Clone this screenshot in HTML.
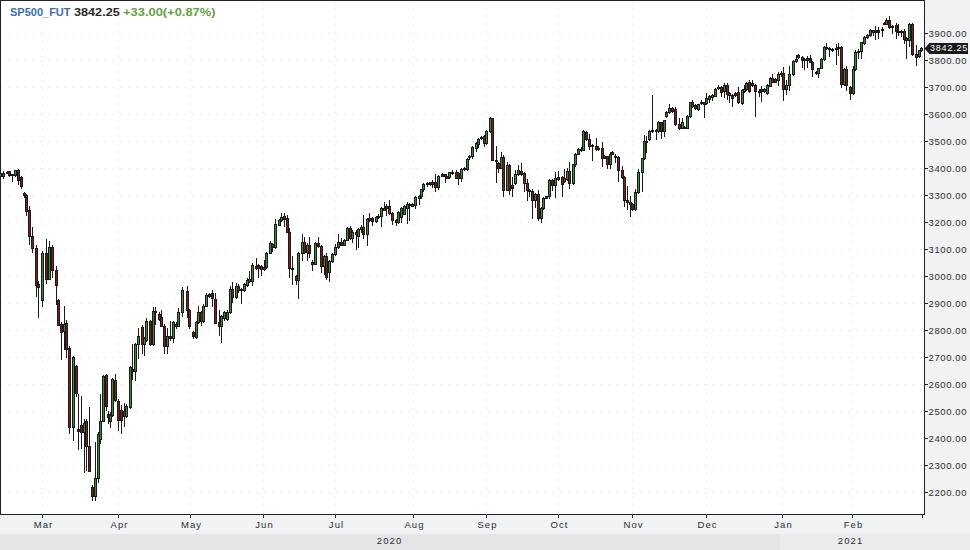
<!DOCTYPE html>
<html><head><meta charset="utf-8">
<style>
html,body{margin:0;padding:0;}
body{width:970px;height:550px;position:relative;overflow:hidden;background:#fff;font-family:"Liberation Sans",sans-serif;}
#axr{position:absolute;left:925px;top:0;width:45px;height:534px;background:#f1f2f4;}
#axb{position:absolute;left:0;top:515px;width:925px;height:19px;background:#f1f2f4;}
#yr1{position:absolute;left:0;top:534px;width:780px;height:16px;background:#e4e5e7;}
#yr2{position:absolute;left:780px;top:534px;width:190px;height:16px;background:#eaebed;}
svg{position:absolute;left:0;top:0;}
.yl{position:absolute;left:928.5px;width:42px;font-size:9.5px;line-height:12px;color:#2e2e2e;letter-spacing:0.62px;white-space:nowrap;}
.xl{position:absolute;top:518.5px;width:40px;text-align:center;font-size:9.5px;line-height:12px;color:#2e2e2e;letter-spacing:1.1px;text-indent:1.1px;}
.yr{position:absolute;top:535px;font-size:9.5px;line-height:12px;color:#2e2e2e;letter-spacing:1.1px;text-indent:1.1px;width:60px;text-align:center;}
.tt{position:absolute;top:6px;font-size:10px;font-weight:bold;line-height:13px;white-space:nowrap;transform-origin:0 0;}
#last{position:absolute;left:929px;top:43px;width:39px;height:11px;background:#1a1a1a;}
#lastt{position:absolute;left:930px;top:43px;font-size:9px;line-height:11px;color:#fff;letter-spacing:0.8px;}
</style></head><body>
<div id="axr"></div><div id="axb"></div><div id="yr1"></div><div id="yr2"></div>
<svg width="970" height="550" viewBox="0 0 970 550" shape-rendering="crispEdges">
<line x1="0" y1="33.5" x2="924" y2="33.5" stroke="#ededed" stroke-width="1" stroke-dasharray="2,6"/>
<line x1="0" y1="60.5" x2="924" y2="60.5" stroke="#ededed" stroke-width="1" stroke-dasharray="2,6"/>
<line x1="0" y1="87.5" x2="924" y2="87.5" stroke="#ededed" stroke-width="1" stroke-dasharray="2,6"/>
<line x1="0" y1="114.5" x2="924" y2="114.5" stroke="#ededed" stroke-width="1" stroke-dasharray="2,6"/>
<line x1="0" y1="141.5" x2="924" y2="141.5" stroke="#ededed" stroke-width="1" stroke-dasharray="2,6"/>
<line x1="0" y1="168.5" x2="924" y2="168.5" stroke="#ededed" stroke-width="1" stroke-dasharray="2,6"/>
<line x1="0" y1="195.5" x2="924" y2="195.5" stroke="#ededed" stroke-width="1" stroke-dasharray="2,6"/>
<line x1="0" y1="222.5" x2="924" y2="222.5" stroke="#ededed" stroke-width="1" stroke-dasharray="2,6"/>
<line x1="0" y1="249.5" x2="924" y2="249.5" stroke="#ededed" stroke-width="1" stroke-dasharray="2,6"/>
<line x1="0" y1="276.5" x2="924" y2="276.5" stroke="#ededed" stroke-width="1" stroke-dasharray="2,6"/>
<line x1="0" y1="303.5" x2="924" y2="303.5" stroke="#ededed" stroke-width="1" stroke-dasharray="2,6"/>
<line x1="0" y1="330.5" x2="924" y2="330.5" stroke="#ededed" stroke-width="1" stroke-dasharray="2,6"/>
<line x1="0" y1="357.5" x2="924" y2="357.5" stroke="#ededed" stroke-width="1" stroke-dasharray="2,6"/>
<line x1="0" y1="384.5" x2="924" y2="384.5" stroke="#ededed" stroke-width="1" stroke-dasharray="2,6"/>
<line x1="0" y1="411.5" x2="924" y2="411.5" stroke="#ededed" stroke-width="1" stroke-dasharray="2,6"/>
<line x1="0" y1="438.5" x2="924" y2="438.5" stroke="#ededed" stroke-width="1" stroke-dasharray="2,6"/>
<line x1="0" y1="465.5" x2="924" y2="465.5" stroke="#ededed" stroke-width="1" stroke-dasharray="2,6"/>
<line x1="0" y1="492.5" x2="924" y2="492.5" stroke="#ededed" stroke-width="1" stroke-dasharray="2,6"/>
<line x1="42.5" y1="0" x2="42.5" y2="514" stroke="#ededed" stroke-width="1" stroke-dasharray="2,6"/>
<line x1="118.5" y1="0" x2="118.5" y2="514" stroke="#ededed" stroke-width="1" stroke-dasharray="2,6"/>
<line x1="190.5" y1="0" x2="190.5" y2="514" stroke="#ededed" stroke-width="1" stroke-dasharray="2,6"/>
<line x1="263.5" y1="0" x2="263.5" y2="514" stroke="#ededed" stroke-width="1" stroke-dasharray="2,6"/>
<line x1="335.5" y1="0" x2="335.5" y2="514" stroke="#ededed" stroke-width="1" stroke-dasharray="2,6"/>
<line x1="413.5" y1="0" x2="413.5" y2="514" stroke="#ededed" stroke-width="1" stroke-dasharray="2,6"/>
<line x1="486.5" y1="0" x2="486.5" y2="514" stroke="#ededed" stroke-width="1" stroke-dasharray="2,6"/>
<line x1="558.5" y1="0" x2="558.5" y2="514" stroke="#ededed" stroke-width="1" stroke-dasharray="2,6"/>
<line x1="632.5" y1="0" x2="632.5" y2="514" stroke="#ededed" stroke-width="1" stroke-dasharray="2,6"/>
<line x1="706.5" y1="0" x2="706.5" y2="514" stroke="#ededed" stroke-width="1" stroke-dasharray="2,6"/>
<line x1="782.5" y1="0" x2="782.5" y2="514" stroke="#ededed" stroke-width="1" stroke-dasharray="2,6"/>
<line x1="852.5" y1="0" x2="852.5" y2="514" stroke="#ededed" stroke-width="1" stroke-dasharray="2,6"/>
<line x1="922.5" y1="0" x2="922.5" y2="514" stroke="#ededed" stroke-width="1" stroke-dasharray="2,6"/>
<rect x="0" y="0" width="925" height="1" fill="#222"/>
<rect x="0" y="0" width="1" height="515" fill="#222"/>
<rect x="924" y="0" width="1" height="515" fill="#222"/>
<rect x="0" y="514" width="925" height="1" fill="#222"/>
<rect x="925" y="33" width="3" height="1" fill="#222"/>
<rect x="925" y="60" width="3" height="1" fill="#222"/>
<rect x="925" y="87" width="3" height="1" fill="#222"/>
<rect x="925" y="114" width="3" height="1" fill="#222"/>
<rect x="925" y="141" width="3" height="1" fill="#222"/>
<rect x="925" y="168" width="3" height="1" fill="#222"/>
<rect x="925" y="195" width="3" height="1" fill="#222"/>
<rect x="925" y="222" width="3" height="1" fill="#222"/>
<rect x="925" y="249" width="3" height="1" fill="#222"/>
<rect x="925" y="276" width="3" height="1" fill="#222"/>
<rect x="925" y="303" width="3" height="1" fill="#222"/>
<rect x="925" y="330" width="3" height="1" fill="#222"/>
<rect x="925" y="357" width="3" height="1" fill="#222"/>
<rect x="925" y="384" width="3" height="1" fill="#222"/>
<rect x="925" y="411" width="3" height="1" fill="#222"/>
<rect x="925" y="438" width="3" height="1" fill="#222"/>
<rect x="925" y="465" width="3" height="1" fill="#222"/>
<rect x="925" y="492" width="3" height="1" fill="#222"/>
<rect x="42" y="515" width="1" height="3" fill="#222"/>
<rect x="118" y="515" width="1" height="3" fill="#222"/>
<rect x="190" y="515" width="1" height="3" fill="#222"/>
<rect x="263" y="515" width="1" height="3" fill="#222"/>
<rect x="335" y="515" width="1" height="3" fill="#222"/>
<rect x="413" y="515" width="1" height="3" fill="#222"/>
<rect x="486" y="515" width="1" height="3" fill="#222"/>
<rect x="558" y="515" width="1" height="3" fill="#222"/>
<rect x="632" y="515" width="1" height="3" fill="#222"/>
<rect x="706" y="515" width="1" height="3" fill="#222"/>
<rect x="782" y="515" width="1" height="3" fill="#222"/>
<rect x="852" y="515" width="1" height="3" fill="#222"/>
<rect x="922" y="515" width="1" height="3" fill="#222"/>
<rect x="0" y="171" width="1" height="7" fill="#1a1a1a"/>
<rect x="-1" y="173" width="3" height="4" fill="#1a1a1a"/>
<rect x="0" y="174" width="1" height="2" fill="#368f36"/>
<rect x="3" y="171" width="1" height="8" fill="#1a1a1a"/>
<rect x="2" y="173" width="3" height="4" fill="#1a1a1a"/>
<rect x="3" y="174" width="1" height="2" fill="#368f36"/>
<rect x="7" y="171" width="1" height="3" fill="#1a1a1a"/>
<rect x="6" y="172" width="3" height="2" fill="#1a1a1a"/>
<rect x="9" y="171" width="1" height="6" fill="#1a1a1a"/>
<rect x="8" y="171" width="3" height="5" fill="#1a1a1a"/>
<rect x="9" y="172" width="1" height="3" fill="#861d1d"/>
<rect x="12" y="174" width="1" height="8" fill="#1a1a1a"/>
<rect x="11" y="174" width="3" height="2" fill="#1a1a1a"/>
<rect x="15" y="170" width="1" height="7" fill="#1a1a1a"/>
<rect x="14" y="170" width="3" height="6" fill="#1a1a1a"/>
<rect x="15" y="171" width="1" height="4" fill="#368f36"/>
<rect x="18" y="169" width="1" height="16" fill="#1a1a1a"/>
<rect x="17" y="170" width="3" height="11" fill="#1a1a1a"/>
<rect x="18" y="171" width="1" height="9" fill="#861d1d"/>
<rect x="21" y="176" width="1" height="13" fill="#1a1a1a"/>
<rect x="20" y="177" width="3" height="10" fill="#1a1a1a"/>
<rect x="21" y="178" width="1" height="8" fill="#861d1d"/>
<rect x="24" y="192" width="1" height="6" fill="#1a1a1a"/>
<rect x="23" y="193" width="3" height="3" fill="#1a1a1a"/>
<rect x="24" y="194" width="1" height="1" fill="#861d1d"/>
<rect x="26" y="194" width="1" height="22" fill="#1a1a1a"/>
<rect x="25" y="195" width="3" height="17" fill="#1a1a1a"/>
<rect x="26" y="196" width="1" height="15" fill="#861d1d"/>
<rect x="29" y="206" width="1" height="39" fill="#1a1a1a"/>
<rect x="28" y="210" width="3" height="27" fill="#1a1a1a"/>
<rect x="29" y="211" width="1" height="25" fill="#861d1d"/>
<rect x="32" y="227" width="1" height="26" fill="#1a1a1a"/>
<rect x="31" y="236" width="3" height="13" fill="#1a1a1a"/>
<rect x="32" y="237" width="1" height="11" fill="#861d1d"/>
<rect x="36" y="245" width="1" height="52" fill="#1a1a1a"/>
<rect x="35" y="248" width="3" height="38" fill="#1a1a1a"/>
<rect x="36" y="249" width="1" height="36" fill="#861d1d"/>
<rect x="38" y="281" width="1" height="37" fill="#1a1a1a"/>
<rect x="37" y="284" width="3" height="4" fill="#1a1a1a"/>
<rect x="38" y="285" width="1" height="2" fill="#861d1d"/>
<rect x="42" y="251" width="1" height="56" fill="#1a1a1a"/>
<rect x="41" y="253" width="3" height="48" fill="#1a1a1a"/>
<rect x="42" y="254" width="1" height="46" fill="#368f36"/>
<rect x="46" y="239" width="1" height="45" fill="#1a1a1a"/>
<rect x="45" y="253" width="3" height="27" fill="#1a1a1a"/>
<rect x="46" y="254" width="1" height="25" fill="#861d1d"/>
<rect x="49" y="241" width="1" height="39" fill="#1a1a1a"/>
<rect x="48" y="247" width="3" height="33" fill="#1a1a1a"/>
<rect x="49" y="248" width="1" height="31" fill="#368f36"/>
<rect x="52" y="245" width="1" height="33" fill="#1a1a1a"/>
<rect x="51" y="247" width="3" height="24" fill="#1a1a1a"/>
<rect x="52" y="248" width="1" height="22" fill="#861d1d"/>
<rect x="56" y="266" width="1" height="39" fill="#1a1a1a"/>
<rect x="55" y="270" width="3" height="16" fill="#1a1a1a"/>
<rect x="56" y="271" width="1" height="14" fill="#861d1d"/>
<rect x="58" y="299" width="1" height="27" fill="#1a1a1a"/>
<rect x="57" y="300" width="3" height="26" fill="#1a1a1a"/>
<rect x="58" y="301" width="1" height="24" fill="#861d1d"/>
<rect x="61" y="322" width="1" height="38" fill="#1a1a1a"/>
<rect x="60" y="324" width="3" height="9" fill="#1a1a1a"/>
<rect x="61" y="325" width="1" height="7" fill="#861d1d"/>
<rect x="64" y="306" width="1" height="44" fill="#1a1a1a"/>
<rect x="63" y="324" width="3" height="8" fill="#1a1a1a"/>
<rect x="64" y="325" width="1" height="6" fill="#368f36"/>
<rect x="66" y="320" width="1" height="38" fill="#1a1a1a"/>
<rect x="65" y="323" width="3" height="27" fill="#1a1a1a"/>
<rect x="66" y="324" width="1" height="25" fill="#861d1d"/>
<rect x="69" y="346" width="1" height="88" fill="#1a1a1a"/>
<rect x="68" y="348" width="3" height="80" fill="#1a1a1a"/>
<rect x="69" y="349" width="1" height="78" fill="#861d1d"/>
<rect x="73" y="356" width="1" height="85" fill="#1a1a1a"/>
<rect x="72" y="357" width="3" height="71" fill="#1a1a1a"/>
<rect x="73" y="358" width="1" height="69" fill="#368f36"/>
<rect x="76" y="365" width="1" height="32" fill="#1a1a1a"/>
<rect x="75" y="366" width="3" height="28" fill="#1a1a1a"/>
<rect x="76" y="367" width="1" height="26" fill="#861d1d"/>
<rect x="78" y="394" width="1" height="56" fill="#1a1a1a"/>
<rect x="77" y="429" width="3" height="3" fill="#1a1a1a"/>
<rect x="78" y="430" width="1" height="1" fill="#861d1d"/>
<rect x="81" y="396" width="1" height="53" fill="#1a1a1a"/>
<rect x="80" y="425" width="3" height="8" fill="#1a1a1a"/>
<rect x="81" y="426" width="1" height="6" fill="#861d1d"/>
<rect x="84" y="419" width="1" height="54" fill="#1a1a1a"/>
<rect x="83" y="423" width="3" height="10" fill="#1a1a1a"/>
<rect x="84" y="424" width="1" height="8" fill="#368f36"/>
<rect x="86" y="419" width="1" height="52" fill="#1a1a1a"/>
<rect x="85" y="421" width="3" height="26" fill="#1a1a1a"/>
<rect x="86" y="422" width="1" height="24" fill="#861d1d"/>
<rect x="89" y="407" width="1" height="65" fill="#1a1a1a"/>
<rect x="88" y="446" width="3" height="26" fill="#1a1a1a"/>
<rect x="89" y="447" width="1" height="24" fill="#861d1d"/>
<rect x="92" y="485" width="1" height="16" fill="#1a1a1a"/>
<rect x="91" y="487" width="3" height="10" fill="#1a1a1a"/>
<rect x="92" y="488" width="1" height="8" fill="#861d1d"/>
<rect x="95" y="442" width="1" height="59" fill="#1a1a1a"/>
<rect x="94" y="478" width="3" height="19" fill="#1a1a1a"/>
<rect x="95" y="479" width="1" height="17" fill="#368f36"/>
<rect x="98" y="432" width="1" height="51" fill="#1a1a1a"/>
<rect x="97" y="434" width="3" height="45" fill="#1a1a1a"/>
<rect x="98" y="435" width="1" height="43" fill="#368f36"/>
<rect x="100" y="394" width="1" height="50" fill="#1a1a1a"/>
<rect x="99" y="421" width="3" height="19" fill="#1a1a1a"/>
<rect x="100" y="422" width="1" height="17" fill="#368f36"/>
<rect x="103" y="375" width="1" height="47" fill="#1a1a1a"/>
<rect x="102" y="376" width="3" height="46" fill="#1a1a1a"/>
<rect x="103" y="377" width="1" height="44" fill="#368f36"/>
<rect x="106" y="374" width="1" height="37" fill="#1a1a1a"/>
<rect x="105" y="375" width="3" height="32" fill="#1a1a1a"/>
<rect x="106" y="376" width="1" height="30" fill="#861d1d"/>
<rect x="108" y="411" width="1" height="13" fill="#1a1a1a"/>
<rect x="107" y="414" width="3" height="4" fill="#1a1a1a"/>
<rect x="108" y="415" width="1" height="2" fill="#861d1d"/>
<rect x="110" y="412" width="1" height="16" fill="#1a1a1a"/>
<rect x="109" y="415" width="3" height="7" fill="#1a1a1a"/>
<rect x="110" y="416" width="1" height="5" fill="#368f36"/>
<rect x="112" y="378" width="1" height="39" fill="#1a1a1a"/>
<rect x="111" y="379" width="3" height="37" fill="#1a1a1a"/>
<rect x="112" y="380" width="1" height="35" fill="#368f36"/>
<rect x="115" y="374" width="1" height="28" fill="#1a1a1a"/>
<rect x="114" y="380" width="3" height="21" fill="#1a1a1a"/>
<rect x="115" y="381" width="1" height="19" fill="#861d1d"/>
<rect x="118" y="399" width="1" height="32" fill="#1a1a1a"/>
<rect x="117" y="401" width="3" height="20" fill="#1a1a1a"/>
<rect x="118" y="402" width="1" height="18" fill="#861d1d"/>
<rect x="121" y="405" width="1" height="29" fill="#1a1a1a"/>
<rect x="120" y="410" width="3" height="11" fill="#1a1a1a"/>
<rect x="121" y="411" width="1" height="9" fill="#861d1d"/>
<rect x="124" y="403" width="1" height="24" fill="#1a1a1a"/>
<rect x="123" y="411" width="3" height="6" fill="#1a1a1a"/>
<rect x="124" y="412" width="1" height="4" fill="#861d1d"/>
<rect x="126" y="404" width="1" height="14" fill="#1a1a1a"/>
<rect x="125" y="406" width="3" height="11" fill="#1a1a1a"/>
<rect x="126" y="407" width="1" height="9" fill="#368f36"/>
<rect x="130" y="366" width="1" height="43" fill="#1a1a1a"/>
<rect x="129" y="367" width="3" height="41" fill="#1a1a1a"/>
<rect x="130" y="368" width="1" height="39" fill="#368f36"/>
<rect x="132" y="344" width="1" height="36" fill="#1a1a1a"/>
<rect x="131" y="369" width="3" height="3" fill="#1a1a1a"/>
<rect x="132" y="370" width="1" height="1" fill="#861d1d"/>
<rect x="135" y="343" width="1" height="38" fill="#1a1a1a"/>
<rect x="134" y="344" width="3" height="28" fill="#1a1a1a"/>
<rect x="135" y="345" width="1" height="26" fill="#368f36"/>
<rect x="138" y="328" width="1" height="31" fill="#1a1a1a"/>
<rect x="137" y="336" width="3" height="9" fill="#1a1a1a"/>
<rect x="138" y="337" width="1" height="7" fill="#368f36"/>
<rect x="142" y="325" width="1" height="29" fill="#1a1a1a"/>
<rect x="141" y="327" width="3" height="18" fill="#1a1a1a"/>
<rect x="142" y="328" width="1" height="16" fill="#861d1d"/>
<rect x="144" y="337" width="1" height="19" fill="#1a1a1a"/>
<rect x="143" y="338" width="3" height="7" fill="#1a1a1a"/>
<rect x="144" y="339" width="1" height="5" fill="#368f36"/>
<rect x="146" y="318" width="1" height="24" fill="#1a1a1a"/>
<rect x="145" y="321" width="3" height="20" fill="#1a1a1a"/>
<rect x="146" y="322" width="1" height="18" fill="#368f36"/>
<rect x="150" y="320" width="1" height="26" fill="#1a1a1a"/>
<rect x="149" y="321" width="3" height="24" fill="#1a1a1a"/>
<rect x="150" y="322" width="1" height="22" fill="#861d1d"/>
<rect x="153" y="307" width="1" height="39" fill="#1a1a1a"/>
<rect x="152" y="311" width="3" height="34" fill="#1a1a1a"/>
<rect x="153" y="312" width="1" height="32" fill="#368f36"/>
<rect x="155" y="307" width="1" height="18" fill="#1a1a1a"/>
<rect x="154" y="311" width="3" height="2" fill="#1a1a1a"/>
<rect x="159" y="312" width="1" height="9" fill="#1a1a1a"/>
<rect x="158" y="314" width="3" height="6" fill="#1a1a1a"/>
<rect x="159" y="315" width="1" height="4" fill="#861d1d"/>
<rect x="161" y="310" width="1" height="17" fill="#1a1a1a"/>
<rect x="160" y="317" width="3" height="10" fill="#1a1a1a"/>
<rect x="161" y="318" width="1" height="8" fill="#861d1d"/>
<rect x="164" y="324" width="1" height="30" fill="#1a1a1a"/>
<rect x="163" y="326" width="3" height="21" fill="#1a1a1a"/>
<rect x="164" y="327" width="1" height="19" fill="#861d1d"/>
<rect x="167" y="328" width="1" height="26" fill="#1a1a1a"/>
<rect x="166" y="336" width="3" height="11" fill="#1a1a1a"/>
<rect x="167" y="337" width="1" height="9" fill="#368f36"/>
<rect x="170" y="321" width="1" height="20" fill="#1a1a1a"/>
<rect x="169" y="336" width="3" height="3" fill="#1a1a1a"/>
<rect x="170" y="337" width="1" height="1" fill="#861d1d"/>
<rect x="173" y="321" width="1" height="22" fill="#1a1a1a"/>
<rect x="172" y="322" width="3" height="17" fill="#1a1a1a"/>
<rect x="173" y="323" width="1" height="15" fill="#368f36"/>
<rect x="176" y="322" width="1" height="7" fill="#1a1a1a"/>
<rect x="175" y="324" width="3" height="3" fill="#1a1a1a"/>
<rect x="176" y="325" width="1" height="1" fill="#861d1d"/>
<rect x="178" y="308" width="1" height="19" fill="#1a1a1a"/>
<rect x="177" y="312" width="3" height="15" fill="#1a1a1a"/>
<rect x="178" y="313" width="1" height="13" fill="#368f36"/>
<rect x="182" y="287" width="1" height="30" fill="#1a1a1a"/>
<rect x="181" y="290" width="3" height="23" fill="#1a1a1a"/>
<rect x="182" y="291" width="1" height="21" fill="#368f36"/>
<rect x="187" y="286" width="1" height="32" fill="#1a1a1a"/>
<rect x="186" y="291" width="3" height="20" fill="#1a1a1a"/>
<rect x="187" y="292" width="1" height="18" fill="#861d1d"/>
<rect x="189" y="309" width="1" height="20" fill="#1a1a1a"/>
<rect x="188" y="310" width="3" height="17" fill="#1a1a1a"/>
<rect x="189" y="311" width="1" height="15" fill="#861d1d"/>
<rect x="193" y="331" width="1" height="8" fill="#1a1a1a"/>
<rect x="192" y="332" width="3" height="5" fill="#1a1a1a"/>
<rect x="193" y="333" width="1" height="3" fill="#861d1d"/>
<rect x="196" y="321" width="1" height="18" fill="#1a1a1a"/>
<rect x="195" y="322" width="3" height="16" fill="#1a1a1a"/>
<rect x="196" y="323" width="1" height="14" fill="#368f36"/>
<rect x="198" y="306" width="1" height="18" fill="#1a1a1a"/>
<rect x="197" y="312" width="3" height="11" fill="#1a1a1a"/>
<rect x="198" y="313" width="1" height="9" fill="#368f36"/>
<rect x="201" y="311" width="1" height="15" fill="#1a1a1a"/>
<rect x="200" y="312" width="3" height="10" fill="#1a1a1a"/>
<rect x="201" y="313" width="1" height="8" fill="#861d1d"/>
<rect x="203" y="304" width="1" height="19" fill="#1a1a1a"/>
<rect x="202" y="306" width="3" height="16" fill="#1a1a1a"/>
<rect x="203" y="307" width="1" height="14" fill="#368f36"/>
<rect x="206" y="293" width="1" height="14" fill="#1a1a1a"/>
<rect x="205" y="295" width="3" height="12" fill="#1a1a1a"/>
<rect x="206" y="296" width="1" height="10" fill="#368f36"/>
<rect x="209" y="293" width="1" height="5" fill="#1a1a1a"/>
<rect x="208" y="294" width="3" height="3" fill="#1a1a1a"/>
<rect x="209" y="295" width="1" height="1" fill="#861d1d"/>
<rect x="212" y="290" width="1" height="17" fill="#1a1a1a"/>
<rect x="211" y="293" width="3" height="6" fill="#1a1a1a"/>
<rect x="212" y="294" width="1" height="4" fill="#861d1d"/>
<rect x="215" y="293" width="1" height="31" fill="#1a1a1a"/>
<rect x="214" y="299" width="3" height="25" fill="#1a1a1a"/>
<rect x="215" y="300" width="1" height="23" fill="#861d1d"/>
<rect x="219" y="310" width="1" height="26" fill="#1a1a1a"/>
<rect x="218" y="322" width="3" height="5" fill="#1a1a1a"/>
<rect x="219" y="323" width="1" height="3" fill="#861d1d"/>
<rect x="221" y="315" width="1" height="28" fill="#1a1a1a"/>
<rect x="220" y="316" width="3" height="11" fill="#1a1a1a"/>
<rect x="221" y="317" width="1" height="9" fill="#368f36"/>
<rect x="224" y="311" width="1" height="10" fill="#1a1a1a"/>
<rect x="223" y="312" width="3" height="7" fill="#1a1a1a"/>
<rect x="224" y="313" width="1" height="5" fill="#368f36"/>
<rect x="227" y="310" width="1" height="11" fill="#1a1a1a"/>
<rect x="226" y="312" width="3" height="8" fill="#1a1a1a"/>
<rect x="227" y="313" width="1" height="6" fill="#368f36"/>
<rect x="230" y="286" width="1" height="28" fill="#1a1a1a"/>
<rect x="229" y="289" width="3" height="24" fill="#1a1a1a"/>
<rect x="230" y="290" width="1" height="22" fill="#368f36"/>
<rect x="232" y="282" width="1" height="21" fill="#1a1a1a"/>
<rect x="231" y="289" width="3" height="9" fill="#1a1a1a"/>
<rect x="232" y="290" width="1" height="7" fill="#861d1d"/>
<rect x="236" y="283" width="1" height="16" fill="#1a1a1a"/>
<rect x="235" y="286" width="3" height="12" fill="#1a1a1a"/>
<rect x="236" y="287" width="1" height="10" fill="#368f36"/>
<rect x="238" y="284" width="1" height="9" fill="#1a1a1a"/>
<rect x="237" y="286" width="3" height="5" fill="#1a1a1a"/>
<rect x="238" y="287" width="1" height="3" fill="#861d1d"/>
<rect x="241" y="288" width="1" height="16" fill="#1a1a1a"/>
<rect x="240" y="289" width="3" height="2" fill="#1a1a1a"/>
<rect x="244" y="283" width="1" height="9" fill="#1a1a1a"/>
<rect x="243" y="284" width="3" height="7" fill="#1a1a1a"/>
<rect x="244" y="285" width="1" height="5" fill="#368f36"/>
<rect x="247" y="278" width="1" height="9" fill="#1a1a1a"/>
<rect x="246" y="280" width="3" height="6" fill="#1a1a1a"/>
<rect x="247" y="281" width="1" height="4" fill="#368f36"/>
<rect x="249" y="271" width="1" height="12" fill="#1a1a1a"/>
<rect x="248" y="279" width="3" height="3" fill="#1a1a1a"/>
<rect x="249" y="280" width="1" height="1" fill="#368f36"/>
<rect x="252" y="263" width="1" height="23" fill="#1a1a1a"/>
<rect x="251" y="265" width="3" height="17" fill="#1a1a1a"/>
<rect x="252" y="266" width="1" height="15" fill="#368f36"/>
<rect x="256" y="258" width="1" height="12" fill="#1a1a1a"/>
<rect x="255" y="266" width="3" height="3" fill="#1a1a1a"/>
<rect x="256" y="267" width="1" height="1" fill="#861d1d"/>
<rect x="258" y="264" width="1" height="14" fill="#1a1a1a"/>
<rect x="257" y="265" width="3" height="4" fill="#1a1a1a"/>
<rect x="258" y="266" width="1" height="2" fill="#861d1d"/>
<rect x="261" y="265" width="1" height="11" fill="#1a1a1a"/>
<rect x="260" y="266" width="3" height="4" fill="#1a1a1a"/>
<rect x="261" y="267" width="1" height="2" fill="#861d1d"/>
<rect x="264" y="260" width="1" height="11" fill="#1a1a1a"/>
<rect x="263" y="267" width="3" height="3" fill="#1a1a1a"/>
<rect x="264" y="268" width="1" height="1" fill="#861d1d"/>
<rect x="266" y="252" width="1" height="17" fill="#1a1a1a"/>
<rect x="265" y="253" width="3" height="15" fill="#1a1a1a"/>
<rect x="266" y="254" width="1" height="13" fill="#368f36"/>
<rect x="270" y="241" width="1" height="13" fill="#1a1a1a"/>
<rect x="269" y="243" width="3" height="11" fill="#1a1a1a"/>
<rect x="270" y="244" width="1" height="9" fill="#368f36"/>
<rect x="272" y="243" width="1" height="9" fill="#1a1a1a"/>
<rect x="271" y="244" width="3" height="4" fill="#1a1a1a"/>
<rect x="272" y="245" width="1" height="2" fill="#861d1d"/>
<rect x="275" y="219" width="1" height="30" fill="#1a1a1a"/>
<rect x="274" y="224" width="3" height="24" fill="#1a1a1a"/>
<rect x="275" y="225" width="1" height="22" fill="#368f36"/>
<rect x="279" y="219" width="1" height="7" fill="#1a1a1a"/>
<rect x="278" y="220" width="3" height="6" fill="#1a1a1a"/>
<rect x="279" y="221" width="1" height="4" fill="#368f36"/>
<rect x="281" y="213" width="1" height="9" fill="#1a1a1a"/>
<rect x="280" y="217" width="3" height="4" fill="#1a1a1a"/>
<rect x="281" y="218" width="1" height="2" fill="#368f36"/>
<rect x="284" y="213" width="1" height="14" fill="#1a1a1a"/>
<rect x="283" y="216" width="3" height="4" fill="#1a1a1a"/>
<rect x="284" y="217" width="1" height="2" fill="#861d1d"/>
<rect x="287" y="215" width="1" height="18" fill="#1a1a1a"/>
<rect x="286" y="218" width="3" height="15" fill="#1a1a1a"/>
<rect x="287" y="219" width="1" height="13" fill="#861d1d"/>
<rect x="289" y="228" width="1" height="50" fill="#1a1a1a"/>
<rect x="288" y="232" width="3" height="37" fill="#1a1a1a"/>
<rect x="289" y="233" width="1" height="35" fill="#861d1d"/>
<rect x="292" y="256" width="1" height="29" fill="#1a1a1a"/>
<rect x="291" y="268" width="3" height="2" fill="#1a1a1a"/>
<rect x="296" y="275" width="1" height="10" fill="#1a1a1a"/>
<rect x="295" y="276" width="3" height="5" fill="#1a1a1a"/>
<rect x="296" y="277" width="1" height="3" fill="#861d1d"/>
<rect x="298" y="252" width="1" height="47" fill="#1a1a1a"/>
<rect x="297" y="253" width="3" height="28" fill="#1a1a1a"/>
<rect x="298" y="254" width="1" height="26" fill="#368f36"/>
<rect x="302" y="234" width="1" height="27" fill="#1a1a1a"/>
<rect x="301" y="242" width="3" height="12" fill="#1a1a1a"/>
<rect x="302" y="243" width="1" height="10" fill="#368f36"/>
<rect x="304" y="237" width="1" height="17" fill="#1a1a1a"/>
<rect x="303" y="242" width="3" height="11" fill="#1a1a1a"/>
<rect x="304" y="243" width="1" height="9" fill="#861d1d"/>
<rect x="307" y="243" width="1" height="18" fill="#1a1a1a"/>
<rect x="306" y="245" width="3" height="8" fill="#1a1a1a"/>
<rect x="307" y="246" width="1" height="6" fill="#368f36"/>
<rect x="309" y="237" width="1" height="21" fill="#1a1a1a"/>
<rect x="308" y="245" width="3" height="9" fill="#1a1a1a"/>
<rect x="309" y="246" width="1" height="7" fill="#861d1d"/>
<rect x="312" y="260" width="1" height="11" fill="#1a1a1a"/>
<rect x="311" y="262" width="3" height="3" fill="#1a1a1a"/>
<rect x="312" y="263" width="1" height="1" fill="#861d1d"/>
<rect x="315" y="242" width="1" height="23" fill="#1a1a1a"/>
<rect x="314" y="243" width="3" height="22" fill="#1a1a1a"/>
<rect x="315" y="244" width="1" height="20" fill="#368f36"/>
<rect x="318" y="237" width="1" height="11" fill="#1a1a1a"/>
<rect x="317" y="243" width="3" height="4" fill="#1a1a1a"/>
<rect x="318" y="244" width="1" height="2" fill="#861d1d"/>
<rect x="321" y="245" width="1" height="28" fill="#1a1a1a"/>
<rect x="320" y="246" width="3" height="21" fill="#1a1a1a"/>
<rect x="321" y="247" width="1" height="19" fill="#861d1d"/>
<rect x="324" y="255" width="1" height="20" fill="#1a1a1a"/>
<rect x="323" y="256" width="3" height="11" fill="#1a1a1a"/>
<rect x="324" y="257" width="1" height="9" fill="#368f36"/>
<rect x="326" y="253" width="1" height="27" fill="#1a1a1a"/>
<rect x="325" y="256" width="3" height="22" fill="#1a1a1a"/>
<rect x="326" y="257" width="1" height="20" fill="#861d1d"/>
<rect x="329" y="260" width="1" height="22" fill="#1a1a1a"/>
<rect x="328" y="261" width="3" height="12" fill="#1a1a1a"/>
<rect x="329" y="262" width="1" height="10" fill="#368f36"/>
<rect x="332" y="253" width="1" height="10" fill="#1a1a1a"/>
<rect x="331" y="254" width="3" height="8" fill="#1a1a1a"/>
<rect x="332" y="255" width="1" height="6" fill="#368f36"/>
<rect x="335" y="244" width="1" height="12" fill="#1a1a1a"/>
<rect x="334" y="247" width="3" height="8" fill="#1a1a1a"/>
<rect x="335" y="248" width="1" height="6" fill="#368f36"/>
<rect x="338" y="234" width="1" height="15" fill="#1a1a1a"/>
<rect x="337" y="242" width="3" height="6" fill="#1a1a1a"/>
<rect x="338" y="243" width="1" height="4" fill="#368f36"/>
<rect x="341" y="238" width="1" height="8" fill="#1a1a1a"/>
<rect x="340" y="242" width="3" height="4" fill="#1a1a1a"/>
<rect x="341" y="243" width="1" height="2" fill="#861d1d"/>
<rect x="344" y="239" width="1" height="7" fill="#1a1a1a"/>
<rect x="343" y="240" width="3" height="6" fill="#1a1a1a"/>
<rect x="344" y="241" width="1" height="4" fill="#368f36"/>
<rect x="347" y="227" width="1" height="14" fill="#1a1a1a"/>
<rect x="346" y="228" width="3" height="13" fill="#1a1a1a"/>
<rect x="347" y="229" width="1" height="11" fill="#368f36"/>
<rect x="350" y="226" width="1" height="14" fill="#1a1a1a"/>
<rect x="349" y="228" width="3" height="11" fill="#1a1a1a"/>
<rect x="350" y="229" width="1" height="9" fill="#861d1d"/>
<rect x="352" y="230" width="1" height="13" fill="#1a1a1a"/>
<rect x="351" y="232" width="3" height="7" fill="#1a1a1a"/>
<rect x="352" y="233" width="1" height="5" fill="#368f36"/>
<rect x="356" y="230" width="1" height="20" fill="#1a1a1a"/>
<rect x="355" y="232" width="3" height="3" fill="#1a1a1a"/>
<rect x="356" y="233" width="1" height="1" fill="#861d1d"/>
<rect x="358" y="228" width="1" height="20" fill="#1a1a1a"/>
<rect x="357" y="229" width="3" height="8" fill="#1a1a1a"/>
<rect x="358" y="230" width="1" height="6" fill="#368f36"/>
<rect x="361" y="225" width="1" height="8" fill="#1a1a1a"/>
<rect x="360" y="227" width="3" height="3" fill="#1a1a1a"/>
<rect x="361" y="228" width="1" height="1" fill="#368f36"/>
<rect x="363" y="215" width="1" height="24" fill="#1a1a1a"/>
<rect x="362" y="227" width="3" height="8" fill="#1a1a1a"/>
<rect x="363" y="228" width="1" height="6" fill="#861d1d"/>
<rect x="367" y="218" width="1" height="28" fill="#1a1a1a"/>
<rect x="366" y="219" width="3" height="16" fill="#1a1a1a"/>
<rect x="367" y="220" width="1" height="14" fill="#368f36"/>
<rect x="369" y="213" width="1" height="9" fill="#1a1a1a"/>
<rect x="368" y="218" width="3" height="3" fill="#1a1a1a"/>
<rect x="369" y="219" width="1" height="1" fill="#861d1d"/>
<rect x="372" y="217" width="1" height="9" fill="#1a1a1a"/>
<rect x="371" y="218" width="3" height="4" fill="#1a1a1a"/>
<rect x="372" y="219" width="1" height="2" fill="#861d1d"/>
<rect x="376" y="216" width="1" height="7" fill="#1a1a1a"/>
<rect x="375" y="217" width="3" height="5" fill="#1a1a1a"/>
<rect x="376" y="218" width="1" height="3" fill="#368f36"/>
<rect x="378" y="214" width="1" height="5" fill="#1a1a1a"/>
<rect x="377" y="216" width="3" height="2" fill="#1a1a1a"/>
<rect x="381" y="207" width="1" height="20" fill="#1a1a1a"/>
<rect x="380" y="208" width="3" height="9" fill="#1a1a1a"/>
<rect x="381" y="209" width="1" height="7" fill="#368f36"/>
<rect x="384" y="202" width="1" height="9" fill="#1a1a1a"/>
<rect x="383" y="208" width="3" height="3" fill="#1a1a1a"/>
<rect x="384" y="209" width="1" height="1" fill="#368f36"/>
<rect x="386" y="204" width="1" height="12" fill="#1a1a1a"/>
<rect x="385" y="206" width="3" height="3" fill="#1a1a1a"/>
<rect x="386" y="207" width="1" height="1" fill="#861d1d"/>
<rect x="389" y="200" width="1" height="15" fill="#1a1a1a"/>
<rect x="388" y="206" width="3" height="8" fill="#1a1a1a"/>
<rect x="389" y="207" width="1" height="6" fill="#861d1d"/>
<rect x="392" y="212" width="1" height="13" fill="#1a1a1a"/>
<rect x="391" y="213" width="3" height="8" fill="#1a1a1a"/>
<rect x="392" y="214" width="1" height="6" fill="#861d1d"/>
<rect x="396" y="219" width="1" height="7" fill="#1a1a1a"/>
<rect x="395" y="220" width="3" height="3" fill="#1a1a1a"/>
<rect x="396" y="221" width="1" height="1" fill="#861d1d"/>
<rect x="398" y="211" width="1" height="13" fill="#1a1a1a"/>
<rect x="397" y="212" width="3" height="11" fill="#1a1a1a"/>
<rect x="398" y="213" width="1" height="9" fill="#368f36"/>
<rect x="401" y="207" width="1" height="16" fill="#1a1a1a"/>
<rect x="400" y="208" width="3" height="10" fill="#1a1a1a"/>
<rect x="401" y="209" width="1" height="8" fill="#368f36"/>
<rect x="404" y="205" width="1" height="10" fill="#1a1a1a"/>
<rect x="403" y="206" width="3" height="9" fill="#1a1a1a"/>
<rect x="404" y="207" width="1" height="7" fill="#368f36"/>
<rect x="407" y="202" width="1" height="22" fill="#1a1a1a"/>
<rect x="406" y="204" width="3" height="5" fill="#1a1a1a"/>
<rect x="407" y="205" width="1" height="3" fill="#368f36"/>
<rect x="409" y="203" width="1" height="18" fill="#1a1a1a"/>
<rect x="408" y="204" width="3" height="2" fill="#1a1a1a"/>
<rect x="412" y="203" width="1" height="4" fill="#1a1a1a"/>
<rect x="411" y="204" width="3" height="3" fill="#1a1a1a"/>
<rect x="412" y="205" width="1" height="1" fill="#861d1d"/>
<rect x="415" y="196" width="1" height="13" fill="#1a1a1a"/>
<rect x="414" y="197" width="3" height="9" fill="#1a1a1a"/>
<rect x="415" y="198" width="1" height="7" fill="#368f36"/>
<rect x="419" y="195" width="1" height="10" fill="#1a1a1a"/>
<rect x="418" y="196" width="3" height="3" fill="#1a1a1a"/>
<rect x="419" y="197" width="1" height="1" fill="#368f36"/>
<rect x="421" y="189" width="1" height="10" fill="#1a1a1a"/>
<rect x="420" y="189" width="3" height="8" fill="#1a1a1a"/>
<rect x="421" y="190" width="1" height="6" fill="#368f36"/>
<rect x="423" y="183" width="1" height="9" fill="#1a1a1a"/>
<rect x="422" y="184" width="3" height="6" fill="#1a1a1a"/>
<rect x="423" y="185" width="1" height="4" fill="#368f36"/>
<rect x="427" y="182" width="1" height="5" fill="#1a1a1a"/>
<rect x="426" y="183" width="3" height="2" fill="#1a1a1a"/>
<rect x="430" y="182" width="1" height="4" fill="#1a1a1a"/>
<rect x="429" y="182" width="3" height="3" fill="#1a1a1a"/>
<rect x="430" y="183" width="1" height="1" fill="#861d1d"/>
<rect x="432" y="180" width="1" height="8" fill="#1a1a1a"/>
<rect x="431" y="182" width="3" height="3" fill="#1a1a1a"/>
<rect x="432" y="183" width="1" height="1" fill="#861d1d"/>
<rect x="435" y="174" width="1" height="18" fill="#1a1a1a"/>
<rect x="434" y="182" width="3" height="6" fill="#1a1a1a"/>
<rect x="435" y="183" width="1" height="4" fill="#861d1d"/>
<rect x="438" y="175" width="1" height="15" fill="#1a1a1a"/>
<rect x="437" y="176" width="3" height="12" fill="#1a1a1a"/>
<rect x="438" y="177" width="1" height="10" fill="#368f36"/>
<rect x="442" y="173" width="1" height="4" fill="#1a1a1a"/>
<rect x="441" y="174" width="3" height="3" fill="#1a1a1a"/>
<rect x="442" y="175" width="1" height="1" fill="#861d1d"/>
<rect x="445" y="174" width="1" height="9" fill="#1a1a1a"/>
<rect x="444" y="174" width="3" height="3" fill="#1a1a1a"/>
<rect x="445" y="175" width="1" height="1" fill="#861d1d"/>
<rect x="447" y="176" width="1" height="3" fill="#1a1a1a"/>
<rect x="446" y="176" width="3" height="3" fill="#1a1a1a"/>
<rect x="447" y="177" width="1" height="1" fill="#861d1d"/>
<rect x="449" y="172" width="1" height="7" fill="#1a1a1a"/>
<rect x="448" y="172" width="3" height="6" fill="#1a1a1a"/>
<rect x="449" y="173" width="1" height="4" fill="#368f36"/>
<rect x="452" y="170" width="1" height="5" fill="#1a1a1a"/>
<rect x="451" y="172" width="3" height="2" fill="#1a1a1a"/>
<rect x="456" y="170" width="1" height="9" fill="#1a1a1a"/>
<rect x="455" y="172" width="3" height="7" fill="#1a1a1a"/>
<rect x="456" y="173" width="1" height="5" fill="#861d1d"/>
<rect x="458" y="172" width="1" height="13" fill="#1a1a1a"/>
<rect x="457" y="173" width="3" height="6" fill="#1a1a1a"/>
<rect x="458" y="174" width="1" height="4" fill="#861d1d"/>
<rect x="461" y="168" width="1" height="14" fill="#1a1a1a"/>
<rect x="460" y="169" width="3" height="10" fill="#1a1a1a"/>
<rect x="461" y="170" width="1" height="8" fill="#368f36"/>
<rect x="464" y="167" width="1" height="4" fill="#1a1a1a"/>
<rect x="463" y="168" width="3" height="2" fill="#1a1a1a"/>
<rect x="467" y="158" width="1" height="13" fill="#1a1a1a"/>
<rect x="466" y="159" width="3" height="11" fill="#1a1a1a"/>
<rect x="467" y="160" width="1" height="9" fill="#368f36"/>
<rect x="469" y="155" width="1" height="5" fill="#1a1a1a"/>
<rect x="468" y="156" width="3" height="2" fill="#1a1a1a"/>
<rect x="472" y="146" width="1" height="13" fill="#1a1a1a"/>
<rect x="471" y="147" width="3" height="10" fill="#1a1a1a"/>
<rect x="472" y="148" width="1" height="8" fill="#368f36"/>
<rect x="476" y="142" width="1" height="10" fill="#1a1a1a"/>
<rect x="475" y="143" width="3" height="6" fill="#1a1a1a"/>
<rect x="476" y="144" width="1" height="4" fill="#368f36"/>
<rect x="478" y="138" width="1" height="10" fill="#1a1a1a"/>
<rect x="477" y="139" width="3" height="6" fill="#1a1a1a"/>
<rect x="478" y="140" width="1" height="4" fill="#368f36"/>
<rect x="481" y="136" width="1" height="4" fill="#1a1a1a"/>
<rect x="480" y="137" width="3" height="2" fill="#1a1a1a"/>
<rect x="484" y="135" width="1" height="12" fill="#1a1a1a"/>
<rect x="483" y="136" width="3" height="8" fill="#1a1a1a"/>
<rect x="484" y="137" width="1" height="6" fill="#861d1d"/>
<rect x="486" y="130" width="1" height="15" fill="#1a1a1a"/>
<rect x="485" y="131" width="3" height="13" fill="#1a1a1a"/>
<rect x="486" y="132" width="1" height="11" fill="#368f36"/>
<rect x="490" y="117" width="1" height="16" fill="#1a1a1a"/>
<rect x="489" y="118" width="3" height="14" fill="#1a1a1a"/>
<rect x="490" y="119" width="1" height="12" fill="#368f36"/>
<rect x="492" y="118" width="1" height="43" fill="#1a1a1a"/>
<rect x="491" y="118" width="3" height="43" fill="#1a1a1a"/>
<rect x="492" y="119" width="1" height="41" fill="#861d1d"/>
<rect x="496" y="146" width="1" height="37" fill="#1a1a1a"/>
<rect x="495" y="160" width="3" height="2" fill="#1a1a1a"/>
<rect x="498" y="162" width="1" height="11" fill="#1a1a1a"/>
<rect x="497" y="163" width="3" height="6" fill="#1a1a1a"/>
<rect x="498" y="164" width="1" height="4" fill="#861d1d"/>
<rect x="501" y="152" width="1" height="17" fill="#1a1a1a"/>
<rect x="500" y="157" width="3" height="12" fill="#1a1a1a"/>
<rect x="501" y="158" width="1" height="10" fill="#368f36"/>
<rect x="503" y="155" width="1" height="42" fill="#1a1a1a"/>
<rect x="502" y="157" width="3" height="34" fill="#1a1a1a"/>
<rect x="503" y="158" width="1" height="32" fill="#861d1d"/>
<rect x="507" y="162" width="1" height="29" fill="#1a1a1a"/>
<rect x="506" y="165" width="3" height="26" fill="#1a1a1a"/>
<rect x="507" y="166" width="1" height="24" fill="#368f36"/>
<rect x="509" y="164" width="1" height="31" fill="#1a1a1a"/>
<rect x="508" y="165" width="3" height="26" fill="#1a1a1a"/>
<rect x="509" y="166" width="1" height="24" fill="#861d1d"/>
<rect x="512" y="177" width="1" height="20" fill="#1a1a1a"/>
<rect x="511" y="185" width="3" height="4" fill="#1a1a1a"/>
<rect x="512" y="186" width="1" height="2" fill="#861d1d"/>
<rect x="515" y="170" width="1" height="15" fill="#1a1a1a"/>
<rect x="514" y="174" width="3" height="10" fill="#1a1a1a"/>
<rect x="515" y="175" width="1" height="8" fill="#368f36"/>
<rect x="518" y="165" width="1" height="11" fill="#1a1a1a"/>
<rect x="517" y="170" width="3" height="5" fill="#1a1a1a"/>
<rect x="518" y="171" width="1" height="3" fill="#368f36"/>
<rect x="521" y="163" width="1" height="13" fill="#1a1a1a"/>
<rect x="520" y="171" width="3" height="4" fill="#1a1a1a"/>
<rect x="521" y="172" width="1" height="2" fill="#861d1d"/>
<rect x="524" y="172" width="1" height="20" fill="#1a1a1a"/>
<rect x="523" y="173" width="3" height="11" fill="#1a1a1a"/>
<rect x="524" y="174" width="1" height="9" fill="#861d1d"/>
<rect x="527" y="179" width="1" height="22" fill="#1a1a1a"/>
<rect x="526" y="183" width="3" height="8" fill="#1a1a1a"/>
<rect x="527" y="184" width="1" height="6" fill="#861d1d"/>
<rect x="529" y="189" width="1" height="8" fill="#1a1a1a"/>
<rect x="528" y="190" width="3" height="2" fill="#1a1a1a"/>
<rect x="532" y="189" width="1" height="30" fill="#1a1a1a"/>
<rect x="531" y="191" width="3" height="10" fill="#1a1a1a"/>
<rect x="532" y="192" width="1" height="8" fill="#861d1d"/>
<rect x="535" y="193" width="1" height="15" fill="#1a1a1a"/>
<rect x="534" y="194" width="3" height="7" fill="#1a1a1a"/>
<rect x="535" y="195" width="1" height="5" fill="#368f36"/>
<rect x="538" y="190" width="1" height="31" fill="#1a1a1a"/>
<rect x="537" y="194" width="3" height="25" fill="#1a1a1a"/>
<rect x="538" y="195" width="1" height="23" fill="#861d1d"/>
<rect x="541" y="207" width="1" height="16" fill="#1a1a1a"/>
<rect x="540" y="208" width="3" height="11" fill="#1a1a1a"/>
<rect x="541" y="209" width="1" height="9" fill="#368f36"/>
<rect x="543" y="197" width="1" height="13" fill="#1a1a1a"/>
<rect x="542" y="198" width="3" height="11" fill="#1a1a1a"/>
<rect x="543" y="199" width="1" height="9" fill="#368f36"/>
<rect x="546" y="196" width="1" height="3" fill="#1a1a1a"/>
<rect x="545" y="196" width="3" height="3" fill="#1a1a1a"/>
<rect x="546" y="197" width="1" height="1" fill="#861d1d"/>
<rect x="549" y="179" width="1" height="20" fill="#1a1a1a"/>
<rect x="548" y="180" width="3" height="17" fill="#1a1a1a"/>
<rect x="549" y="181" width="1" height="15" fill="#368f36"/>
<rect x="552" y="179" width="1" height="12" fill="#1a1a1a"/>
<rect x="551" y="180" width="3" height="6" fill="#1a1a1a"/>
<rect x="552" y="181" width="1" height="4" fill="#861d1d"/>
<rect x="555" y="172" width="1" height="26" fill="#1a1a1a"/>
<rect x="554" y="178" width="3" height="8" fill="#1a1a1a"/>
<rect x="555" y="179" width="1" height="6" fill="#368f36"/>
<rect x="558" y="171" width="1" height="10" fill="#1a1a1a"/>
<rect x="557" y="177" width="3" height="3" fill="#1a1a1a"/>
<rect x="558" y="178" width="1" height="1" fill="#861d1d"/>
<rect x="562" y="176" width="1" height="21" fill="#1a1a1a"/>
<rect x="561" y="177" width="3" height="8" fill="#1a1a1a"/>
<rect x="562" y="178" width="1" height="6" fill="#861d1d"/>
<rect x="564" y="169" width="1" height="14" fill="#1a1a1a"/>
<rect x="563" y="178" width="3" height="4" fill="#1a1a1a"/>
<rect x="564" y="179" width="1" height="2" fill="#368f36"/>
<rect x="567" y="168" width="1" height="13" fill="#1a1a1a"/>
<rect x="566" y="171" width="3" height="9" fill="#1a1a1a"/>
<rect x="567" y="172" width="1" height="7" fill="#368f36"/>
<rect x="569" y="162" width="1" height="27" fill="#1a1a1a"/>
<rect x="568" y="171" width="3" height="13" fill="#1a1a1a"/>
<rect x="569" y="172" width="1" height="11" fill="#861d1d"/>
<rect x="573" y="164" width="1" height="21" fill="#1a1a1a"/>
<rect x="572" y="164" width="3" height="20" fill="#1a1a1a"/>
<rect x="573" y="165" width="1" height="18" fill="#368f36"/>
<rect x="575" y="153" width="1" height="14" fill="#1a1a1a"/>
<rect x="574" y="154" width="3" height="11" fill="#1a1a1a"/>
<rect x="575" y="155" width="1" height="9" fill="#368f36"/>
<rect x="578" y="148" width="1" height="7" fill="#1a1a1a"/>
<rect x="577" y="149" width="3" height="6" fill="#1a1a1a"/>
<rect x="578" y="150" width="1" height="4" fill="#368f36"/>
<rect x="581" y="147" width="1" height="5" fill="#1a1a1a"/>
<rect x="580" y="149" width="3" height="2" fill="#1a1a1a"/>
<rect x="583" y="130" width="1" height="21" fill="#1a1a1a"/>
<rect x="582" y="131" width="3" height="20" fill="#1a1a1a"/>
<rect x="583" y="132" width="1" height="18" fill="#368f36"/>
<rect x="586" y="131" width="1" height="10" fill="#1a1a1a"/>
<rect x="585" y="132" width="3" height="8" fill="#1a1a1a"/>
<rect x="586" y="133" width="1" height="6" fill="#861d1d"/>
<rect x="589" y="134" width="1" height="16" fill="#1a1a1a"/>
<rect x="588" y="139" width="3" height="8" fill="#1a1a1a"/>
<rect x="589" y="140" width="1" height="6" fill="#861d1d"/>
<rect x="592" y="144" width="1" height="17" fill="#1a1a1a"/>
<rect x="591" y="145" width="3" height="2" fill="#1a1a1a"/>
<rect x="596" y="138" width="1" height="13" fill="#1a1a1a"/>
<rect x="595" y="146" width="3" height="4" fill="#1a1a1a"/>
<rect x="596" y="147" width="1" height="2" fill="#861d1d"/>
<rect x="598" y="146" width="1" height="5" fill="#1a1a1a"/>
<rect x="597" y="148" width="3" height="2" fill="#1a1a1a"/>
<rect x="602" y="142" width="1" height="25" fill="#1a1a1a"/>
<rect x="601" y="148" width="3" height="11" fill="#1a1a1a"/>
<rect x="602" y="149" width="1" height="9" fill="#861d1d"/>
<rect x="604" y="155" width="1" height="4" fill="#1a1a1a"/>
<rect x="603" y="156" width="3" height="3" fill="#1a1a1a"/>
<rect x="604" y="157" width="1" height="1" fill="#861d1d"/>
<rect x="607" y="156" width="1" height="13" fill="#1a1a1a"/>
<rect x="606" y="156" width="3" height="9" fill="#1a1a1a"/>
<rect x="607" y="157" width="1" height="7" fill="#861d1d"/>
<rect x="610" y="152" width="1" height="17" fill="#1a1a1a"/>
<rect x="609" y="154" width="3" height="11" fill="#1a1a1a"/>
<rect x="610" y="155" width="1" height="9" fill="#368f36"/>
<rect x="612" y="151" width="1" height="4" fill="#1a1a1a"/>
<rect x="611" y="152" width="3" height="3" fill="#1a1a1a"/>
<rect x="612" y="153" width="1" height="1" fill="#861d1d"/>
<rect x="615" y="154" width="1" height="9" fill="#1a1a1a"/>
<rect x="614" y="156" width="3" height="2" fill="#1a1a1a"/>
<rect x="618" y="156" width="1" height="26" fill="#1a1a1a"/>
<rect x="617" y="157" width="3" height="14" fill="#1a1a1a"/>
<rect x="618" y="158" width="1" height="12" fill="#861d1d"/>
<rect x="622" y="166" width="1" height="13" fill="#1a1a1a"/>
<rect x="621" y="170" width="3" height="8" fill="#1a1a1a"/>
<rect x="622" y="171" width="1" height="6" fill="#861d1d"/>
<rect x="624" y="176" width="1" height="31" fill="#1a1a1a"/>
<rect x="623" y="177" width="3" height="24" fill="#1a1a1a"/>
<rect x="624" y="178" width="1" height="22" fill="#861d1d"/>
<rect x="627" y="186" width="1" height="24" fill="#1a1a1a"/>
<rect x="626" y="200" width="3" height="3" fill="#1a1a1a"/>
<rect x="627" y="201" width="1" height="1" fill="#861d1d"/>
<rect x="630" y="196" width="1" height="21" fill="#1a1a1a"/>
<rect x="629" y="202" width="3" height="3" fill="#1a1a1a"/>
<rect x="630" y="203" width="1" height="1" fill="#861d1d"/>
<rect x="632" y="203" width="1" height="8" fill="#1a1a1a"/>
<rect x="631" y="204" width="3" height="6" fill="#1a1a1a"/>
<rect x="632" y="205" width="1" height="4" fill="#861d1d"/>
<rect x="635" y="189" width="1" height="22" fill="#1a1a1a"/>
<rect x="634" y="192" width="3" height="18" fill="#1a1a1a"/>
<rect x="635" y="193" width="1" height="16" fill="#368f36"/>
<rect x="638" y="169" width="1" height="25" fill="#1a1a1a"/>
<rect x="637" y="172" width="3" height="21" fill="#1a1a1a"/>
<rect x="638" y="173" width="1" height="19" fill="#368f36"/>
<rect x="642" y="158" width="1" height="34" fill="#1a1a1a"/>
<rect x="641" y="158" width="3" height="15" fill="#1a1a1a"/>
<rect x="642" y="159" width="1" height="13" fill="#368f36"/>
<rect x="644" y="135" width="1" height="25" fill="#1a1a1a"/>
<rect x="643" y="141" width="3" height="18" fill="#1a1a1a"/>
<rect x="644" y="142" width="1" height="16" fill="#368f36"/>
<rect x="646" y="136" width="1" height="17" fill="#1a1a1a"/>
<rect x="645" y="141" width="3" height="2" fill="#1a1a1a"/>
<rect x="649" y="130" width="1" height="11" fill="#1a1a1a"/>
<rect x="648" y="131" width="3" height="9" fill="#1a1a1a"/>
<rect x="649" y="132" width="1" height="7" fill="#368f36"/>
<rect x="652" y="95" width="1" height="38" fill="#1a1a1a"/>
<rect x="651" y="130" width="3" height="2" fill="#1a1a1a"/>
<rect x="656" y="129" width="1" height="11" fill="#1a1a1a"/>
<rect x="655" y="130" width="3" height="2" fill="#1a1a1a"/>
<rect x="658" y="121" width="1" height="12" fill="#1a1a1a"/>
<rect x="657" y="122" width="3" height="10" fill="#1a1a1a"/>
<rect x="658" y="123" width="1" height="8" fill="#368f36"/>
<rect x="661" y="122" width="1" height="17" fill="#1a1a1a"/>
<rect x="660" y="122" width="3" height="10" fill="#1a1a1a"/>
<rect x="661" y="123" width="1" height="8" fill="#861d1d"/>
<rect x="664" y="120" width="1" height="17" fill="#1a1a1a"/>
<rect x="663" y="120" width="3" height="12" fill="#1a1a1a"/>
<rect x="664" y="121" width="1" height="10" fill="#368f36"/>
<rect x="666" y="111" width="1" height="7" fill="#1a1a1a"/>
<rect x="665" y="112" width="3" height="5" fill="#1a1a1a"/>
<rect x="666" y="113" width="1" height="3" fill="#368f36"/>
<rect x="669" y="104" width="1" height="10" fill="#1a1a1a"/>
<rect x="668" y="108" width="3" height="5" fill="#1a1a1a"/>
<rect x="669" y="109" width="1" height="3" fill="#368f36"/>
<rect x="672" y="107" width="1" height="6" fill="#1a1a1a"/>
<rect x="671" y="108" width="3" height="4" fill="#1a1a1a"/>
<rect x="672" y="109" width="1" height="2" fill="#861d1d"/>
<rect x="675" y="107" width="1" height="19" fill="#1a1a1a"/>
<rect x="674" y="109" width="3" height="16" fill="#1a1a1a"/>
<rect x="675" y="110" width="1" height="14" fill="#861d1d"/>
<rect x="679" y="118" width="1" height="12" fill="#1a1a1a"/>
<rect x="678" y="124" width="3" height="5" fill="#1a1a1a"/>
<rect x="679" y="125" width="1" height="3" fill="#861d1d"/>
<rect x="682" y="118" width="1" height="11" fill="#1a1a1a"/>
<rect x="681" y="122" width="3" height="7" fill="#1a1a1a"/>
<rect x="682" y="123" width="1" height="5" fill="#368f36"/>
<rect x="684" y="126" width="1" height="3" fill="#1a1a1a"/>
<rect x="683" y="127" width="3" height="2" fill="#1a1a1a"/>
<rect x="687" y="115" width="1" height="14" fill="#1a1a1a"/>
<rect x="686" y="116" width="3" height="13" fill="#1a1a1a"/>
<rect x="687" y="117" width="1" height="11" fill="#368f36"/>
<rect x="690" y="102" width="1" height="16" fill="#1a1a1a"/>
<rect x="689" y="102" width="3" height="15" fill="#1a1a1a"/>
<rect x="690" y="103" width="1" height="13" fill="#368f36"/>
<rect x="692" y="100" width="1" height="8" fill="#1a1a1a"/>
<rect x="691" y="102" width="3" height="5" fill="#1a1a1a"/>
<rect x="692" y="103" width="1" height="3" fill="#861d1d"/>
<rect x="695" y="104" width="1" height="6" fill="#1a1a1a"/>
<rect x="694" y="105" width="3" height="4" fill="#1a1a1a"/>
<rect x="695" y="106" width="1" height="2" fill="#861d1d"/>
<rect x="698" y="104" width="1" height="7" fill="#1a1a1a"/>
<rect x="697" y="104" width="3" height="6" fill="#1a1a1a"/>
<rect x="698" y="105" width="1" height="4" fill="#368f36"/>
<rect x="701" y="100" width="1" height="5" fill="#1a1a1a"/>
<rect x="700" y="102" width="3" height="2" fill="#1a1a1a"/>
<rect x="704" y="102" width="1" height="16" fill="#1a1a1a"/>
<rect x="703" y="102" width="3" height="3" fill="#1a1a1a"/>
<rect x="704" y="103" width="1" height="1" fill="#861d1d"/>
<rect x="706" y="93" width="1" height="12" fill="#1a1a1a"/>
<rect x="705" y="98" width="3" height="6" fill="#1a1a1a"/>
<rect x="706" y="99" width="1" height="4" fill="#368f36"/>
<rect x="709" y="95" width="1" height="8" fill="#1a1a1a"/>
<rect x="708" y="96" width="3" height="4" fill="#1a1a1a"/>
<rect x="709" y="97" width="1" height="2" fill="#368f36"/>
<rect x="712" y="94" width="1" height="7" fill="#1a1a1a"/>
<rect x="711" y="95" width="3" height="3" fill="#1a1a1a"/>
<rect x="712" y="96" width="1" height="1" fill="#368f36"/>
<rect x="715" y="88" width="1" height="9" fill="#1a1a1a"/>
<rect x="714" y="89" width="3" height="8" fill="#1a1a1a"/>
<rect x="715" y="90" width="1" height="6" fill="#368f36"/>
<rect x="718" y="85" width="1" height="5" fill="#1a1a1a"/>
<rect x="717" y="87" width="3" height="2" fill="#1a1a1a"/>
<rect x="721" y="86" width="1" height="11" fill="#1a1a1a"/>
<rect x="720" y="87" width="3" height="6" fill="#1a1a1a"/>
<rect x="721" y="88" width="1" height="4" fill="#861d1d"/>
<rect x="724" y="83" width="1" height="15" fill="#1a1a1a"/>
<rect x="723" y="85" width="3" height="7" fill="#1a1a1a"/>
<rect x="724" y="86" width="1" height="5" fill="#368f36"/>
<rect x="727" y="83" width="1" height="17" fill="#1a1a1a"/>
<rect x="726" y="85" width="3" height="10" fill="#1a1a1a"/>
<rect x="727" y="86" width="1" height="8" fill="#861d1d"/>
<rect x="729" y="92" width="1" height="11" fill="#1a1a1a"/>
<rect x="728" y="93" width="3" height="3" fill="#1a1a1a"/>
<rect x="729" y="94" width="1" height="1" fill="#861d1d"/>
<rect x="732" y="94" width="1" height="13" fill="#1a1a1a"/>
<rect x="731" y="95" width="3" height="4" fill="#1a1a1a"/>
<rect x="732" y="96" width="1" height="2" fill="#861d1d"/>
<rect x="735" y="92" width="1" height="5" fill="#1a1a1a"/>
<rect x="734" y="93" width="3" height="3" fill="#1a1a1a"/>
<rect x="735" y="94" width="1" height="1" fill="#861d1d"/>
<rect x="738" y="87" width="1" height="17" fill="#1a1a1a"/>
<rect x="737" y="92" width="3" height="11" fill="#1a1a1a"/>
<rect x="738" y="93" width="1" height="9" fill="#861d1d"/>
<rect x="742" y="89" width="1" height="16" fill="#1a1a1a"/>
<rect x="741" y="90" width="3" height="14" fill="#1a1a1a"/>
<rect x="742" y="91" width="1" height="12" fill="#368f36"/>
<rect x="744" y="85" width="1" height="8" fill="#1a1a1a"/>
<rect x="743" y="89" width="3" height="3" fill="#1a1a1a"/>
<rect x="744" y="90" width="1" height="1" fill="#368f36"/>
<rect x="746" y="82" width="1" height="9" fill="#1a1a1a"/>
<rect x="745" y="83" width="3" height="7" fill="#1a1a1a"/>
<rect x="746" y="84" width="1" height="5" fill="#368f36"/>
<rect x="749" y="80" width="1" height="13" fill="#1a1a1a"/>
<rect x="748" y="82" width="3" height="10" fill="#1a1a1a"/>
<rect x="749" y="83" width="1" height="8" fill="#861d1d"/>
<rect x="752" y="80" width="1" height="7" fill="#1a1a1a"/>
<rect x="751" y="83" width="3" height="3" fill="#1a1a1a"/>
<rect x="752" y="84" width="1" height="1" fill="#861d1d"/>
<rect x="755" y="84" width="1" height="33" fill="#1a1a1a"/>
<rect x="754" y="85" width="3" height="7" fill="#1a1a1a"/>
<rect x="755" y="86" width="1" height="5" fill="#861d1d"/>
<rect x="759" y="89" width="1" height="8" fill="#1a1a1a"/>
<rect x="758" y="91" width="3" height="2" fill="#1a1a1a"/>
<rect x="761" y="86" width="1" height="16" fill="#1a1a1a"/>
<rect x="760" y="89" width="3" height="3" fill="#1a1a1a"/>
<rect x="761" y="90" width="1" height="1" fill="#861d1d"/>
<rect x="764" y="88" width="1" height="5" fill="#1a1a1a"/>
<rect x="763" y="89" width="3" height="3" fill="#1a1a1a"/>
<rect x="764" y="90" width="1" height="1" fill="#368f36"/>
<rect x="767" y="84" width="1" height="11" fill="#1a1a1a"/>
<rect x="766" y="85" width="3" height="9" fill="#1a1a1a"/>
<rect x="767" y="86" width="1" height="7" fill="#368f36"/>
<rect x="770" y="77" width="1" height="10" fill="#1a1a1a"/>
<rect x="769" y="78" width="3" height="9" fill="#1a1a1a"/>
<rect x="770" y="79" width="1" height="7" fill="#368f36"/>
<rect x="772" y="74" width="1" height="9" fill="#1a1a1a"/>
<rect x="771" y="78" width="3" height="5" fill="#1a1a1a"/>
<rect x="772" y="79" width="1" height="3" fill="#861d1d"/>
<rect x="775" y="78" width="1" height="5" fill="#1a1a1a"/>
<rect x="774" y="79" width="3" height="4" fill="#1a1a1a"/>
<rect x="775" y="80" width="1" height="2" fill="#861d1d"/>
<rect x="778" y="72" width="1" height="14" fill="#1a1a1a"/>
<rect x="777" y="74" width="3" height="7" fill="#1a1a1a"/>
<rect x="778" y="75" width="1" height="5" fill="#368f36"/>
<rect x="781" y="71" width="1" height="6" fill="#1a1a1a"/>
<rect x="780" y="73" width="3" height="2" fill="#1a1a1a"/>
<rect x="783" y="67" width="1" height="34" fill="#1a1a1a"/>
<rect x="782" y="73" width="3" height="17" fill="#1a1a1a"/>
<rect x="783" y="74" width="1" height="15" fill="#861d1d"/>
<rect x="786" y="80" width="1" height="15" fill="#1a1a1a"/>
<rect x="785" y="85" width="3" height="5" fill="#1a1a1a"/>
<rect x="786" y="86" width="1" height="3" fill="#368f36"/>
<rect x="789" y="66" width="1" height="25" fill="#1a1a1a"/>
<rect x="788" y="74" width="3" height="12" fill="#1a1a1a"/>
<rect x="789" y="75" width="1" height="10" fill="#368f36"/>
<rect x="793" y="60" width="1" height="16" fill="#1a1a1a"/>
<rect x="792" y="61" width="3" height="14" fill="#1a1a1a"/>
<rect x="793" y="62" width="1" height="12" fill="#368f36"/>
<rect x="796" y="55" width="1" height="8" fill="#1a1a1a"/>
<rect x="795" y="59" width="3" height="3" fill="#1a1a1a"/>
<rect x="796" y="60" width="1" height="1" fill="#368f36"/>
<rect x="798" y="54" width="1" height="5" fill="#1a1a1a"/>
<rect x="797" y="55" width="3" height="3" fill="#1a1a1a"/>
<rect x="798" y="56" width="1" height="1" fill="#861d1d"/>
<rect x="802" y="56" width="1" height="12" fill="#1a1a1a"/>
<rect x="801" y="57" width="3" height="4" fill="#1a1a1a"/>
<rect x="802" y="58" width="1" height="2" fill="#861d1d"/>
<rect x="804" y="58" width="1" height="12" fill="#1a1a1a"/>
<rect x="803" y="59" width="3" height="2" fill="#1a1a1a"/>
<rect x="807" y="56" width="1" height="12" fill="#1a1a1a"/>
<rect x="806" y="58" width="3" height="3" fill="#1a1a1a"/>
<rect x="807" y="59" width="1" height="1" fill="#861d1d"/>
<rect x="810" y="55" width="1" height="8" fill="#1a1a1a"/>
<rect x="809" y="58" width="3" height="5" fill="#1a1a1a"/>
<rect x="810" y="59" width="1" height="3" fill="#861d1d"/>
<rect x="812" y="61" width="1" height="16" fill="#1a1a1a"/>
<rect x="811" y="62" width="3" height="8" fill="#1a1a1a"/>
<rect x="812" y="63" width="1" height="6" fill="#861d1d"/>
<rect x="816" y="71" width="1" height="4" fill="#1a1a1a"/>
<rect x="815" y="72" width="3" height="2" fill="#1a1a1a"/>
<rect x="818" y="68" width="1" height="10" fill="#1a1a1a"/>
<rect x="817" y="68" width="3" height="6" fill="#1a1a1a"/>
<rect x="818" y="69" width="1" height="4" fill="#368f36"/>
<rect x="821" y="58" width="1" height="11" fill="#1a1a1a"/>
<rect x="820" y="59" width="3" height="10" fill="#1a1a1a"/>
<rect x="821" y="60" width="1" height="8" fill="#368f36"/>
<rect x="824" y="46" width="1" height="15" fill="#1a1a1a"/>
<rect x="823" y="47" width="3" height="13" fill="#1a1a1a"/>
<rect x="824" y="48" width="1" height="11" fill="#368f36"/>
<rect x="826" y="43" width="1" height="7" fill="#1a1a1a"/>
<rect x="825" y="47" width="3" height="2" fill="#1a1a1a"/>
<rect x="829" y="47" width="1" height="10" fill="#1a1a1a"/>
<rect x="828" y="48" width="3" height="2" fill="#1a1a1a"/>
<rect x="832" y="48" width="1" height="4" fill="#1a1a1a"/>
<rect x="831" y="49" width="3" height="2" fill="#1a1a1a"/>
<rect x="836" y="44" width="1" height="21" fill="#1a1a1a"/>
<rect x="835" y="48" width="3" height="2" fill="#1a1a1a"/>
<rect x="838" y="43" width="1" height="13" fill="#1a1a1a"/>
<rect x="837" y="47" width="3" height="2" fill="#1a1a1a"/>
<rect x="841" y="46" width="1" height="42" fill="#1a1a1a"/>
<rect x="840" y="47" width="3" height="38" fill="#1a1a1a"/>
<rect x="841" y="48" width="1" height="36" fill="#861d1d"/>
<rect x="844" y="68" width="1" height="18" fill="#1a1a1a"/>
<rect x="843" y="69" width="3" height="16" fill="#1a1a1a"/>
<rect x="844" y="70" width="1" height="14" fill="#368f36"/>
<rect x="846" y="66" width="1" height="25" fill="#1a1a1a"/>
<rect x="845" y="69" width="3" height="17" fill="#1a1a1a"/>
<rect x="846" y="70" width="1" height="15" fill="#861d1d"/>
<rect x="850" y="86" width="1" height="14" fill="#1a1a1a"/>
<rect x="849" y="87" width="3" height="7" fill="#1a1a1a"/>
<rect x="850" y="88" width="1" height="5" fill="#861d1d"/>
<rect x="853" y="66" width="1" height="29" fill="#1a1a1a"/>
<rect x="852" y="69" width="3" height="25" fill="#1a1a1a"/>
<rect x="853" y="70" width="1" height="23" fill="#368f36"/>
<rect x="855" y="50" width="1" height="21" fill="#1a1a1a"/>
<rect x="854" y="52" width="3" height="18" fill="#1a1a1a"/>
<rect x="855" y="53" width="1" height="16" fill="#368f36"/>
<rect x="858" y="49" width="1" height="10" fill="#1a1a1a"/>
<rect x="857" y="51" width="3" height="2" fill="#1a1a1a"/>
<rect x="861" y="42" width="1" height="17" fill="#1a1a1a"/>
<rect x="860" y="42" width="3" height="10" fill="#1a1a1a"/>
<rect x="861" y="43" width="1" height="8" fill="#368f36"/>
<rect x="864" y="36" width="1" height="9" fill="#1a1a1a"/>
<rect x="863" y="37" width="3" height="7" fill="#1a1a1a"/>
<rect x="864" y="38" width="1" height="5" fill="#368f36"/>
<rect x="867" y="34" width="1" height="5" fill="#1a1a1a"/>
<rect x="866" y="35" width="3" height="3" fill="#1a1a1a"/>
<rect x="867" y="36" width="1" height="1" fill="#368f36"/>
<rect x="870" y="29" width="1" height="8" fill="#1a1a1a"/>
<rect x="869" y="30" width="3" height="6" fill="#1a1a1a"/>
<rect x="870" y="31" width="1" height="4" fill="#368f36"/>
<rect x="873" y="30" width="1" height="6" fill="#1a1a1a"/>
<rect x="872" y="30" width="3" height="3" fill="#1a1a1a"/>
<rect x="873" y="31" width="1" height="1" fill="#861d1d"/>
<rect x="875" y="26" width="1" height="14" fill="#1a1a1a"/>
<rect x="874" y="30" width="3" height="3" fill="#1a1a1a"/>
<rect x="875" y="31" width="1" height="1" fill="#861d1d"/>
<rect x="878" y="27" width="1" height="12" fill="#1a1a1a"/>
<rect x="877" y="30" width="3" height="3" fill="#1a1a1a"/>
<rect x="878" y="31" width="1" height="1" fill="#861d1d"/>
<rect x="882" y="27" width="1" height="10" fill="#1a1a1a"/>
<rect x="881" y="29" width="3" height="2" fill="#1a1a1a"/>
<rect x="884" y="22" width="1" height="3" fill="#1a1a1a"/>
<rect x="883" y="23" width="3" height="2" fill="#1a1a1a"/>
<rect x="886" y="18" width="1" height="7" fill="#1a1a1a"/>
<rect x="885" y="20" width="3" height="5" fill="#1a1a1a"/>
<rect x="886" y="21" width="1" height="3" fill="#368f36"/>
<rect x="889" y="16" width="1" height="13" fill="#1a1a1a"/>
<rect x="888" y="20" width="3" height="8" fill="#1a1a1a"/>
<rect x="889" y="21" width="1" height="6" fill="#861d1d"/>
<rect x="892" y="25" width="1" height="9" fill="#1a1a1a"/>
<rect x="891" y="26" width="3" height="2" fill="#1a1a1a"/>
<rect x="896" y="23" width="1" height="16" fill="#1a1a1a"/>
<rect x="895" y="25" width="3" height="7" fill="#1a1a1a"/>
<rect x="896" y="26" width="1" height="5" fill="#861d1d"/>
<rect x="898" y="24" width="1" height="12" fill="#1a1a1a"/>
<rect x="897" y="31" width="3" height="2" fill="#1a1a1a"/>
<rect x="901" y="30" width="1" height="7" fill="#1a1a1a"/>
<rect x="900" y="31" width="3" height="2" fill="#1a1a1a"/>
<rect x="904" y="29" width="1" height="15" fill="#1a1a1a"/>
<rect x="903" y="31" width="3" height="9" fill="#1a1a1a"/>
<rect x="904" y="32" width="1" height="7" fill="#861d1d"/>
<rect x="906" y="37" width="1" height="22" fill="#1a1a1a"/>
<rect x="905" y="38" width="3" height="3" fill="#1a1a1a"/>
<rect x="906" y="39" width="1" height="1" fill="#861d1d"/>
<rect x="909" y="23" width="1" height="24" fill="#1a1a1a"/>
<rect x="908" y="24" width="3" height="17" fill="#1a1a1a"/>
<rect x="909" y="25" width="1" height="15" fill="#368f36"/>
<rect x="912" y="23" width="1" height="33" fill="#1a1a1a"/>
<rect x="911" y="24" width="3" height="31" fill="#1a1a1a"/>
<rect x="912" y="25" width="1" height="29" fill="#861d1d"/>
<rect x="916" y="45" width="1" height="21" fill="#1a1a1a"/>
<rect x="915" y="54" width="3" height="4" fill="#1a1a1a"/>
<rect x="916" y="55" width="1" height="2" fill="#861d1d"/>
<rect x="919" y="50" width="1" height="8" fill="#1a1a1a"/>
<rect x="918" y="50" width="3" height="7" fill="#1a1a1a"/>
<rect x="919" y="51" width="1" height="5" fill="#368f36"/>
<rect x="921" y="47" width="1" height="5" fill="#1a1a1a"/>
<rect x="920" y="48" width="3" height="3" fill="#1a1a1a"/>
<rect x="921" y="49" width="1" height="1" fill="#368f36"/>
<polygon points="924.6,48.5 929.5,43 929.5,54" fill="#1a1a1a" shape-rendering="auto"/>
</svg>
<div class="yl" style="top:27.5px">3900.00</div>
<div class="yl" style="top:54.5px">3800.00</div>
<div class="yl" style="top:81.5px">3700.00</div>
<div class="yl" style="top:108.5px">3600.00</div>
<div class="yl" style="top:135.5px">3500.00</div>
<div class="yl" style="top:162.5px">3400.00</div>
<div class="yl" style="top:189.5px">3300.00</div>
<div class="yl" style="top:216.5px">3200.00</div>
<div class="yl" style="top:243.5px">3100.00</div>
<div class="yl" style="top:270.5px">3000.00</div>
<div class="yl" style="top:297.5px">2900.00</div>
<div class="yl" style="top:324.5px">2800.00</div>
<div class="yl" style="top:351.5px">2700.00</div>
<div class="yl" style="top:378.5px">2600.00</div>
<div class="yl" style="top:405.5px">2500.00</div>
<div class="yl" style="top:432.5px">2400.00</div>
<div class="yl" style="top:459.5px">2300.00</div>
<div class="yl" style="top:486.5px">2200.00</div>
<div class="xl" style="left:23px">Mar</div>
<div class="xl" style="left:99px">Apr</div>
<div class="xl" style="left:171px">May</div>
<div class="xl" style="left:244px">Jun</div>
<div class="xl" style="left:316px">Jul</div>
<div class="xl" style="left:394px">Aug</div>
<div class="xl" style="left:467px">Sep</div>
<div class="xl" style="left:539px">Oct</div>
<div class="xl" style="left:613px">Nov</div>
<div class="xl" style="left:687px">Dec</div>
<div class="xl" style="left:763px">Jan</div>
<div class="xl" style="left:833px">Feb</div>
<div class="yr" style="left:359px">2020</div>
<div class="yr" style="left:820px">2021</div>
<div id="last"></div><div id="lastt">3842.25</div>
<div class="tt" style="left:10.4px;color:#3e6cae;transform:scaleX(1.10)">SP500_FUT</div>
<div class="tt" style="left:74.3px;color:#2a2a2a;transform:scaleX(1.265)">3842.25</div>
<div class="tt" style="left:123.3px;color:#66a042;transform:scaleX(1.29)">+33.00(+0.87%)</div>
</body></html>
